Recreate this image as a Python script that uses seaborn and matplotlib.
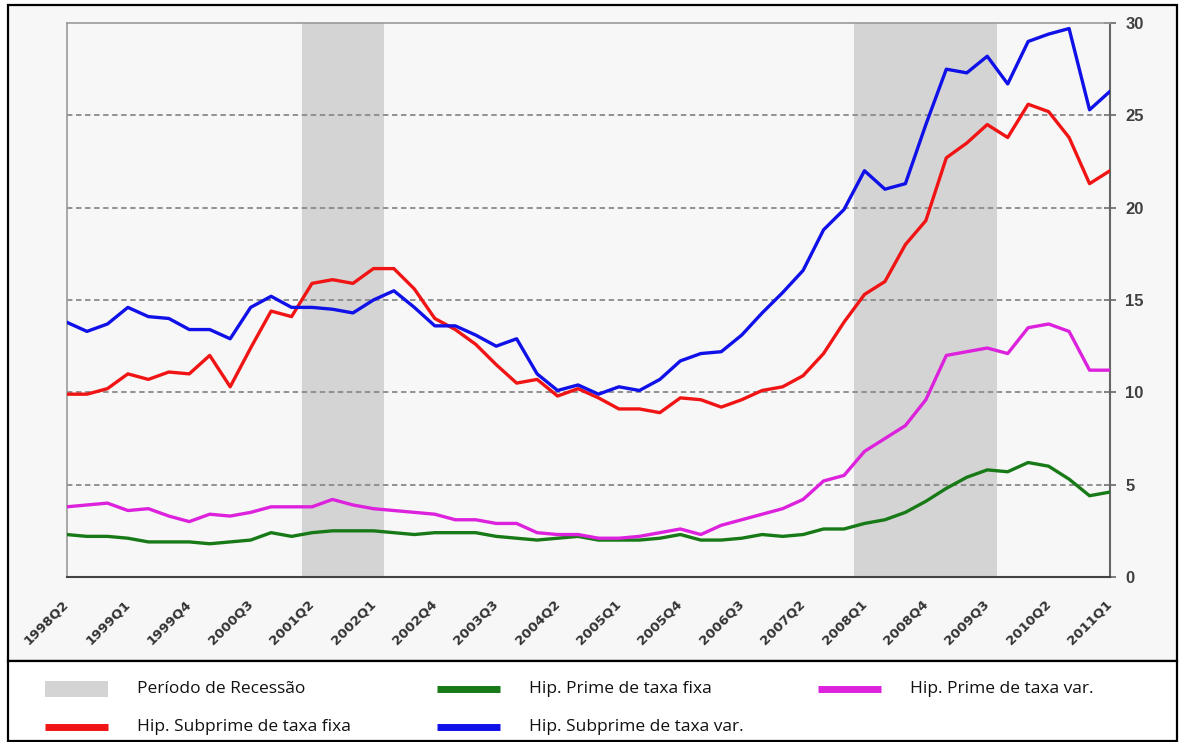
import matplotlib.pyplot as plt
import matplotlib.patches as mpatches
from matplotlib.lines import Line2D
import seaborn as sns
import pandas as pd

# Quarters (1998Q2 .. 2011Q1)
trimestres = [
    "1998Q2", "1998Q3", "1998Q4",
    "1999Q1", "1999Q2", "1999Q3", "1999Q4",
    "2000Q1", "2000Q2", "2000Q3", "2000Q4",
    "2001Q1", "2001Q2", "2001Q3", "2001Q4",
    "2002Q1", "2002Q2", "2002Q3", "2002Q4",
    "2003Q1", "2003Q2", "2003Q3", "2003Q4",
    "2004Q1", "2004Q2", "2004Q3", "2004Q4",
    "2005Q1", "2005Q2", "2005Q3", "2005Q4",
    "2006Q1", "2006Q2", "2006Q3", "2006Q4",
    "2007Q1", "2007Q2", "2007Q3", "2007Q4",
    "2008Q1", "2008Q2", "2008Q3", "2008Q4",
    "2009Q1", "2009Q2", "2009Q3", "2009Q4",
    "2010Q1", "2010Q2", "2010Q3", "2010Q4",
    "2011Q1",
]
rotulos_x = ["1998Q2", "1999Q1", "1999Q4", "2000Q3", "2001Q2", "2002Q1",
             "2002Q4", "2003Q3", "2004Q2", "2005Q1", "2005Q4", "2006Q3",
             "2007Q2", "2008Q1", "2008Q4", "2009Q3", "2010Q2", "2011Q1"]

subprime_fixa = [9.9, 9.9, 10.2, 11.0, 10.7, 11.1, 11.0, 12.0, 10.3, 12.4,
                 14.4, 14.1, 15.9, 16.1, 15.9, 16.7, 16.7, 15.6, 14.0, 13.4,
                 12.6, 11.5, 10.5, 10.7, 9.8, 10.2, 9.7, 9.1, 9.1, 8.9,
                 9.7, 9.6, 9.2, 9.6, 10.1, 10.3, 10.9, 12.1, 13.8, 15.3,
                 16.0, 18.0, 19.3, 22.7, 23.5, 24.5, 23.8, 25.6, 25.2, 23.8,
                 21.3, 22.0]
subprime_var = [13.8, 13.3, 13.7, 14.6, 14.1, 14.0, 13.4, 13.4, 12.9, 14.6,
                15.2, 14.6, 14.6, 14.5, 14.3, 15.0, 15.5, 14.6, 13.6, 13.6,
                13.1, 12.5, 12.9, 11.0, 10.1, 10.4, 9.9, 10.3, 10.1, 10.7,
                11.7, 12.1, 12.2, 13.1, 14.3, 15.4, 16.6, 18.8, 19.9, 22.0,
                21.0, 21.3, 24.5, 27.5, 27.3, 28.2, 26.7, 29.0, 29.4, 29.7,
                25.3, 26.3]
prime_fixa = [2.3, 2.2, 2.2, 2.1, 1.9, 1.9, 1.9, 1.8, 1.9, 2.0,
              2.4, 2.2, 2.4, 2.5, 2.5, 2.5, 2.4, 2.3, 2.4, 2.4,
              2.4, 2.2, 2.1, 2.0, 2.1, 2.2, 2.0, 2.0, 2.0, 2.1,
              2.3, 2.0, 2.0, 2.1, 2.3, 2.2, 2.3, 2.6, 2.6, 2.9,
              3.1, 3.5, 4.1, 4.8, 5.4, 5.8, 5.7, 6.2, 6.0, 5.3,
              4.4, 4.6]
prime_var = [3.8, 3.9, 4.0, 3.6, 3.7, 3.3, 3.0, 3.4, 3.3, 3.5,
             3.8, 3.8, 3.8, 4.2, 3.9, 3.7, 3.6, 3.5, 3.4, 3.1,
             3.1, 2.9, 2.9, 2.4, 2.3, 2.3, 2.1, 2.1, 2.2, 2.4,
             2.6, 2.3, 2.8, 3.1, 3.4, 3.7, 4.2, 5.2, 5.5, 6.8,
             7.5, 8.2, 9.6, 12.0, 12.2, 12.4, 12.1, 13.5, 13.7, 13.3,
             11.2, 11.2]

# recession periods (quarter position, start/end)
recessoes = [(11.5, 15.5), (38.5, 45.5)]

series = {
    "Hip. Subprime de taxa fixa": subprime_fixa,
    "Hip. Subprime de taxa var.": subprime_var,
    "Hip. Prime de taxa fixa": prime_fixa,
    "Hip. Prime de taxa var.": prime_var,
}
cores = {
    "Hip. Subprime de taxa fixa": "#f01414",
    "Hip. Subprime de taxa var.": "#1010e8",
    "Hip. Prime de taxa fixa": "#177a17",
    "Hip. Prime de taxa var.": "#dd22dd",
}

df = pd.DataFrame({"trimestre": trimestres, "pos": range(len(trimestres))})
for nome, vals in series.items():
    df[nome] = vals
longo = df.melt(id_vars=["trimestre", "pos"], var_name="serie", value_name="taxa")

sns.set_style("white")
W, H = 1179, 742
fig = plt.figure(figsize=(W / 100, H / 100), dpi=100)
fig.patch.set_facecolor("white")


def px_rect(x0, y0, x1, y1, **kw):
    return mpatches.Rectangle((x0 / W, 1 - y1 / H), (x1 - x0) / W, (y1 - y0) / H,
                              transform=fig.transFigure, **kw)


fig.patches.append(px_rect(8, 5, 1177, 661, facecolor="#f7f7f7", edgecolor="black",
                           lw=1.6, zorder=-10))
fig.patches.append(px_rect(8, 661, 1177, 741, facecolor="white", edgecolor="black",
                           lw=1.6, zorder=-10))

ax = fig.add_axes([66.5 / W, 1 - 577 / H, (1110 - 66.5) / W, (577 - 23) / H])
ax.set_facecolor("#f7f7f7")

for a, b in recessoes:
    ax.axvspan(a, b, color="#d4d4d4", lw=0, zorder=0)

for yv in [5, 10, 15, 20, 25]:
    ax.axhline(yv, color="#8a8a8a", lw=1.3, ls=(0, (3, 2)), zorder=1)

sns.lineplot(data=longo, x="pos", y="taxa", hue="serie", palette=cores,
             linewidth=2.4, legend=False, ax=ax, zorder=3)

ax.set_xlim(0, len(trimestres) - 1)
ax.set_ylim(0, 30)
ax.set_xlabel("")
ax.set_ylabel("")

ax.set_xticks([trimestres.index(t) for t in rotulos_x])
ax.set_xticklabels(rotulos_x, rotation=45, ha="right", va="center",
                   rotation_mode="anchor", fontsize=9.5, fontweight="bold",
                   color="#333333", family="DejaVu Sans")
ax.tick_params(axis="x", direction="inout", length=10, width=1.2, color="#444444", pad=13)

ax.yaxis.tick_right()
ax.set_yticks([0, 5, 10, 15, 20, 25, 30])
ax.set_yticklabels(["0", "5", "10", "15", "20", "25", "30"], fontsize=12,
                   fontweight="bold", color="#404040", family="Liberation Sans")
ax.tick_params(axis="y", direction="inout", length=8, width=1.2, color="#666666", pad=7)

for lado in ["left", "top"]:
    ax.spines[lado].set_color("#9a9a9a")
    ax.spines[lado].set_linewidth(1.2)
ax.spines["right"].set_color("#666666")
ax.spines["right"].set_linewidth(1.5)
ax.spines["bottom"].set_color("#444444")
ax.spines["bottom"].set_linewidth(1.5)

# legend (drawn manually in the lower panel)
itens = [
    ("patch", "#d4d4d4", "Período de Recessão", 45, 689),
    ("line", cores["Hip. Prime de taxa fixa"], "Hip. Prime de taxa fixa", 437, 689),
    ("line", cores["Hip. Prime de taxa var."], "Hip. Prime de taxa var.", 818, 689),
    ("line", cores["Hip. Subprime de taxa fixa"], "Hip. Subprime de taxa fixa", 45, 727),
    ("line", cores["Hip. Subprime de taxa var."], "Hip. Subprime de taxa var.", 437, 727),
]
for tipo, cor, texto, x0, yc in itens:
    if tipo == "patch":
        fig.patches.append(px_rect(x0, yc - 8, x0 + 63, yc + 8, facecolor=cor, lw=0))
    else:
        fig.lines.append(Line2D([x0 / W, (x0 + 63) / W], [1 - yc / H, 1 - yc / H],
                                transform=fig.transFigure, color=cor, lw=5,
                                solid_capstyle="butt"))
    fig.text((x0 + 92) / W, 1 - yc / H, texto, fontsize=12.5, family="Open Sans",
             va="center", ha="left", color="#111111")

fig.savefig("out.png", dpi=100, facecolor=fig.get_facecolor())
